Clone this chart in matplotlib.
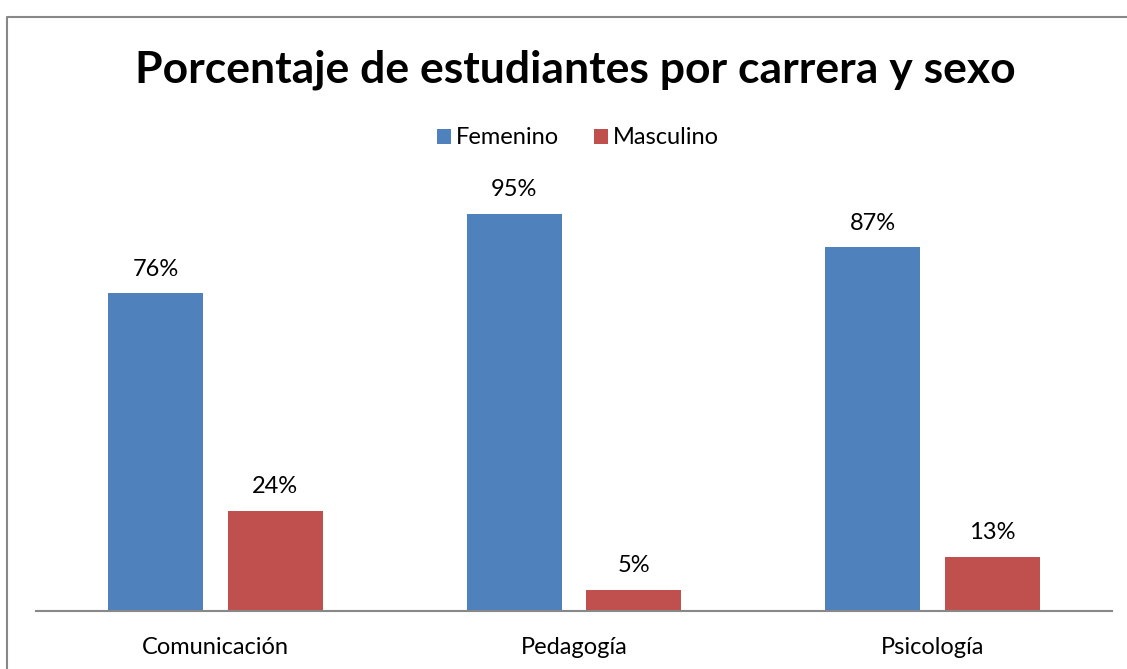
import matplotlib.pyplot as plt
import numpy as np

categories = ['Comunicación', 'Pedagogía', 'Psicología']
femenino = [76, 95, 87]
masculino = [24, 5, 13]

plt.rcParams['font.family'] = ['Lato', 'DejaVu Sans']

W, H = 1127, 669
fig = plt.figure(figsize=(W / 100, H / 100), dpi=100)

# outer chart border (only left and top edges are visible in the crop)
fig.add_artist(plt.Line2D([7 / W, 7 / W, 1.05], [-0.05, 1 - 17 / H, 1 - 17 / H],
                          transform=fig.transFigure, color='#888888', lw=1.5))

ax = fig.add_axes([36 / W, 1 - 611 / H, 1076 / W, 418 / H])
x = np.arange(len(categories))
w = 0.265
off = 0.167
b1 = ax.bar(x - off, femenino, w, color='#4f81bd', label='Femenino')
b2 = ax.bar(x + off, masculino, w, color='#c0504d', label='Masculino')

for bars, vals in [(b1, femenino), (b2, masculino)]:
    for r, v in zip(bars, vals):
        ax.text(r.get_x() + r.get_width() / 2, v + 5.8, f'{v}%',
                ha='center', va='center', fontsize=17)

ax.set_xlim(-0.5, 2.5)
ax.set_ylim(0, 100)
ax.set_yticks([])
ax.set_xticks(x)
ax.set_xticklabels(categories, fontsize=17)
ax.tick_params(axis='x', length=0, pad=19)
for s in ['top', 'right', 'left']:
    ax.spines[s].set_visible(False)
ax.spines['bottom'].set_color('#888888')
ax.spines['bottom'].set_linewidth(1.5)

fig.text(575 / W, 1 - 70 / H, 'Porcentaje de estudiantes por carrera y sexo',
         ha='center', va='center', fontsize=32, fontweight='bold')
fig.legend(handles=[b1, b2], loc='center', bbox_to_anchor=(578 / W, 1 - 138 / H),
           ncol=2, frameon=False, fontsize=17, handlelength=0.6, handleheight=0.6,
           handletextpad=0.2, columnspacing=1.5)

fig.savefig('out.png', dpi=100)
